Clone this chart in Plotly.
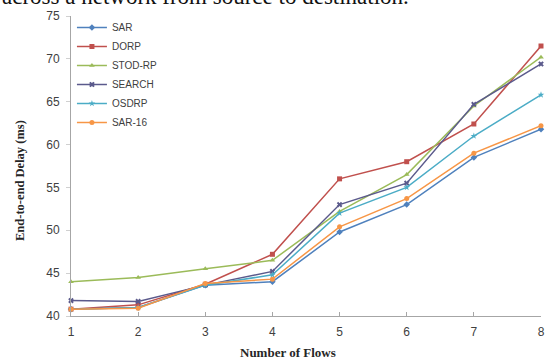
import plotly.graph_objects as go

flows = [1, 2, 3, 4, 5, 6, 7, 8]
y_ticks = [40, 45, 50, 55, 60, 65, 70, 75]

sar     = [40.8, 41.0, 43.6, 44.0, 49.8, 53.0, 58.5, 61.8]
dorp    = [40.8, 41.3, 43.7, 47.2, 56.0, 58.0, 62.4, 71.5]
stod_rp = [44.0, 44.5, 45.5, 46.5, 52.2, 56.5, 64.5, 70.2]
search  = [41.8, 41.7, 43.6, 45.2, 53.0, 55.5, 64.7, 69.4]
osdrp   = [40.8, 41.0, 43.6, 44.8, 52.0, 55.0, 61.0, 65.8]
sar_16  = [40.8, 40.9, 43.8, 44.3, 50.4, 53.7, 59.0, 62.2]

series = [
    ("SAR", sar, "#4F81BD", "diamond"),
    ("DORP", dorp, "#C0504D", "square"),
    ("STOD-RP", stod_rp, "#9BBB59", "triangle-up"),
    ("SEARCH", search, "#5B5A8C", "x"),
    ("OSDRP", osdrp, "#4BACC6", "star"),
    ("SAR-16", sar_16, "#F79646", "circle"),
]

fig = go.Figure()
for name, vals, color, sym in series:
    fig.add_trace(go.Scatter(
        x=flows, y=vals, name=name, mode="lines+markers",
        line=dict(color=color, width=1.5),
        marker=dict(color=color, size=5, symbol=sym),
        cliponaxis=False, legendgroup=name,
    ))

fig.update_layout(
    width=545, height=360,
    margin=dict(l=71, r=4, t=16, b=44, autoexpand=False),
    paper_bgcolor="white", plot_bgcolor="white",
    showlegend=True,
    legend=dict(x=0.002, y=1.01, xanchor="left", yanchor="top",
                font=dict(family="Liberation Sans", size=10, color="#404040"),
                bgcolor="rgba(0,0,0,0)", itemwidth=30, tracegroupgap=0),
    xaxis=dict(range=[1, 8], tickvals=flows, showgrid=False, zeroline=False,
               automargin=False,
               showline=True, linecolor="#A6A6A6", linewidth=1,
               ticks="inside", ticklen=4, tickcolor="#A6A6A6", ticklabelstandoff=5,
               tickfont=dict(family="Liberation Sans", size=12, color="#404040")),
    yaxis=dict(range=[40, 75], tickvals=y_ticks, showgrid=False, zeroline=False,
               automargin=False,
               showline=True, linecolor="#A6A6A6", linewidth=1,
               ticks="outside", ticklen=4, tickcolor="#D0D0D0", ticklabelstandoff=4,
               tickfont=dict(family="Liberation Sans", size=12, color="#404040")),
    annotations=[
        dict(text="<b>Number of Flows</b>", xref="paper", yref="paper",
             x=(288 - 71) / 470, y=0, yshift=-36, xanchor="center", yanchor="middle",
             showarrow=False, font=dict(family="Liberation Serif", size=13, color="#262626")),
        dict(text="<b>End-to-end Delay (ms)</b>", xref="paper", yref="paper",
             x=0, xshift=-51, y=(316 - 181) / 300, textangle=-90,
             xanchor="center", yanchor="middle",
             showarrow=False, font=dict(family="Liberation Serif", size=12.5, color="#262626")),
        dict(text="across a network from source to destination.", xref="paper", yref="paper",
             x=0, xshift=-71, y=1, yshift=5, xanchor="left", yanchor="bottom",
             showarrow=False, font=dict(family="Liberation Serif", size=23, color="#111111")),
    ],
)

fig.write_html("out.html",
               config={"displayModeBar": False},
               post_script="document.body.style.margin='0';document.body.style.overflow='hidden';")
